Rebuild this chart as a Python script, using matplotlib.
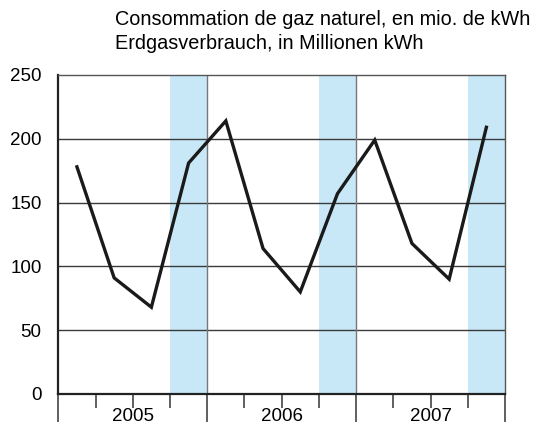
import numpy as np
import matplotlib
matplotlib.use("Agg")
from matplotlib import pyplot as plt

plt.rcParams['font.family'] = ['Liberation Sans', 'DejaVu Sans']

# quarterly gas consumption, mio kWh
years = ["2005", "2006", "2007"]
verbrauch = [178, 91, 68, 181, 214, 114, 80, 157, 199, 118, 90, 209]
titel = ["Consommation de gaz naturel, en mio. de kWh",
         "Erdgasverbrauch, in Millionen kWh"]

fig = plt.figure(figsize=(5.37, 4.41), dpi=100)
ax = fig.add_axes([0.1086, 0.1066, 0.8318, 0.7234])

n = len(verbrauch)
x = np.arange(n) + 0.5

# winter quarter bands
for i in range(len(years)):
    ax.axvspan(4 * i + 3, 4 * i + 4, color="#c8e8f8", lw=0, zorder=0)

# grid
for y in [50, 100, 150, 200]:
    ax.axhline(y, color="#3a3a3a", lw=1.0, zorder=1)
for i in range(1, len(years)):
    ax.axvline(4 * i, color="#777777", lw=1.0, zorder=1)

ax.plot(x, verbrauch, color="#1a1a1a", lw=2.4, zorder=3, solid_joinstyle="miter")

ax.set_xlim(0, n)
ax.set_ylim(0, 250)
ax.set_yticks([0, 50, 100, 150, 200, 250])
ax.tick_params(axis="y", length=0, pad=12, labelsize=13.5)

ax.set_xticks(np.arange(0, n + 1, 4))
ax.set_xticks(np.arange(0, n + 1), minor=True)
ax.set_xticklabels([])
ax.tick_params(axis="x", which="major", length=20, width=1.2, color="#444444", direction="out")
ax.tick_params(axis="x", which="minor", length=10, width=1.2, color="#444444", direction="out")
for i, yr in enumerate(years):
    ax.text(4 * i + 2, -11, yr, ha="center", va="top", fontsize=13.5,
            transform=ax.transData, clip_on=False)

for s in ["top", "right"]:
    ax.spines[s].set_color("#555555")
    ax.spines[s].set_linewidth(1.0)
ax.spines["left"].set_color("#222222")
ax.spines["left"].set_linewidth(1.6)
ax.spines["bottom"].set_color("#222222")
ax.spines["bottom"].set_linewidth(1.6)

fig.text(0.214, 0.978, titel[0], ha="left", va="top", fontsize=14.3)
fig.text(0.214, 0.922, titel[1], ha="left", va="top", fontsize=14.3)

fig.savefig("out.png", dpi=100)
